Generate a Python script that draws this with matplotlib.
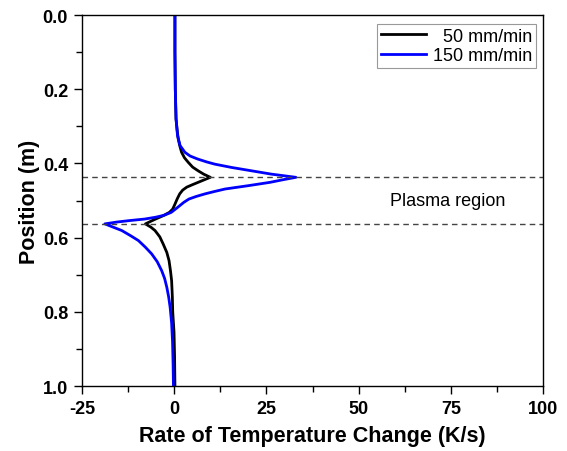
import numpy as np
import matplotlib.pyplot as plt
from matplotlib.ticker import MultipleLocator

plt.rcParams['font.family'] = ['Liberation Sans', 'DejaVu Sans']
plt.rcParams['axes.unicode_minus'] = False

# position (m) vs rate of temperature change (K/s)
pos_50 = [0.0, 0.10, 0.20, 0.28, 0.310, 0.334, 0.352, 0.370, 0.385, 0.397,
          0.410, 0.420, 0.429, 0.4375, 0.444, 0.451, 0.458, 0.464, 0.472, 0.482,
          0.496, 0.510, 0.523, 0.532, 0.541, 0.552, 0.563, 0.572, 0.581, 0.598,
          0.617, 0.640, 0.662, 0.690, 0.716, 0.76, 0.80, 0.855, 0.92, 1.0]
rate_50 = [0.2, 0.2, 0.3, 0.5, 0.8, 1.1, 1.5, 2.0, 2.8, 3.8,
           5.0, 6.5, 8.0, 9.8, 8.2, 6.5, 4.8, 3.4, 2.3, 1.5,
           0.8, 0.2, -0.4, -1.3, -3.0, -5.5, -7.8, -6.3, -5.2, -3.9,
           -3.0, -2.0, -1.4, -1.0, -0.7, -0.5, -0.4, -0.05, 0.1, 0.2]

pos_150 = [0.0, 0.10, 0.20, 0.28, 0.325, 0.352, 0.370, 0.380, 0.388, 0.396,
           0.402, 0.411, 0.420, 0.429, 0.4375, 0.444, 0.451, 0.460, 0.469, 0.476,
           0.482, 0.489, 0.496, 0.505, 0.518, 0.532, 0.540, 0.545, 0.550, 0.554,
           0.558, 0.563, 0.572, 0.581, 0.595, 0.608, 0.626, 0.644, 0.665, 0.689,
           0.710, 0.734, 0.760, 0.788, 0.83, 0.88, 0.94, 1.0]
rate_150 = [0.2, 0.2, 0.3, 0.5, 0.9, 1.6, 2.9, 4.3, 6.3, 8.8,
            11.0, 15.6, 21.0, 26.4, 33.0, 29.5, 26.0, 20.1, 13.8, 10.8,
            8.4, 6.0, 4.0, 2.6, 1.0, -0.8, -2.8, -5.0, -8.0, -12.0,
            -15.5, -18.8, -16.5, -14.2, -11.8, -9.7, -7.8, -6.1, -4.6, -3.4,
            -2.6, -2.0, -1.5, -1.1, -0.7, -0.45, -0.3, -0.2]

plasma_top = 0.437
plasma_bottom = 0.563

fig = plt.figure(figsize=(5.67, 4.52), dpi=100)
ax = fig.add_axes([0.1446, 0.1438, 0.8131, 0.8208])

ax.plot(rate_50, pos_50, '-', c='black', lw=2, label='  50 mm/min')
ax.plot(rate_150, pos_150, '-', c='blue', lw=2, label='150 mm/min')

ax.axhline(plasma_top, color='#444444', lw=1, ls=(0, (4, 3)))
ax.axhline(plasma_bottom, color='#444444', lw=1, ls=(0, (4, 3)))
ax.text(58.5, 0.499, 'Plasma region', fontsize=13, va='center', ha='left')

ax.set_xlim(-25, 100)
ax.set_ylim(1.0, 0.0)
ax.xaxis.set_major_locator(MultipleLocator(25))
ax.xaxis.set_minor_locator(MultipleLocator(12.5))
ax.yaxis.set_minor_locator(MultipleLocator(0.1))
ax.set_yticks(np.arange(0, 1.01, 0.2))
ax.set_yticklabels(['%.1f' % v for v in np.arange(0, 1.01, 0.2)])

ax.tick_params(which='both', direction='out', top=False, right=False, width=1)
ax.tick_params(which='major', length=6, labelsize=13, pad=4)
ax.tick_params(which='minor', length=4)
for lab in ax.get_xticklabels() + ax.get_yticklabels():
    lab.set_fontweight('bold')
for s in ax.spines.values():
    s.set_linewidth(1)

ax.set_xlabel('Rate of Temperature Change (K/s)', fontsize=15.5, fontweight='bold', labelpad=6)
ax.set_ylabel('Position (m)', fontsize=15.5, fontweight='bold', labelpad=2)

leg = ax.legend(loc='upper right', fontsize=13, frameon=True, fancybox=False,
                edgecolor='gray', handlelength=2.5, borderpad=0.2,
                labelspacing=0.15, handletextpad=0.4, borderaxespad=0,
                bbox_to_anchor=(0.985, 0.976))
leg.get_frame().set_linewidth(0.8)

fig.savefig('out.png', dpi=100)
